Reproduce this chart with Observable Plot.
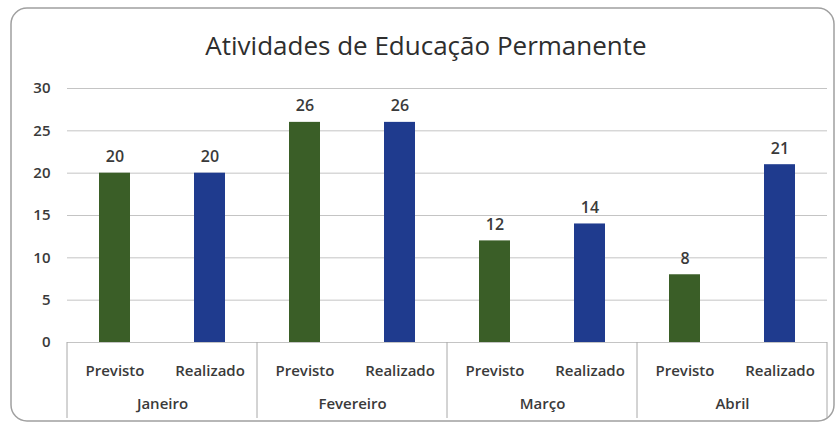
<!DOCTYPE html>
<html><head><meta charset="utf-8">
<script src="https://cdn.jsdelivr.net/npm/d3@7"></script>
<script src="https://cdn.jsdelivr.net/npm/@observablehq/plot@0.6"></script>
<style>body{margin:0;background:#fff;}</style>
</head><body><div id="chart"></div>
<script>
const title = "Atividades de Educação Permanente";
const months = ["Janeiro", "Fevereiro", "Março", "Abril"];
const types = ["Previsto", "Realizado"];
const previsto = [20, 26, 12, 8];
const realizado = [20, 26, 14, 21];
const yTicks = [0, 5, 10, 15, 20, 25, 30];
const colors = ["#3a5e27", "#1f3b8e"];

const data = months.flatMap((m, i) => [
  {month: m, tipo: types[0], value: previsto[i]},
  {month: m, tipo: types[1], value: realizado[i]}
]);
const font = "'Open Sans', sans-serif";

const plot = Plot.plot({
  width: 837, height: 424,
  marginLeft: 65, marginRight: 9, marginTop: 88, marginBottom: 82,
  style: {fontFamily: font, fontSize: "15px", color: "#3a3a3a", background: "transparent"},
  fx: {domain: months, padding: 0, label: null},
  x: {domain: types, paddingInner: 0.67, paddingOuter: 0.335, label: null},
  y: {domain: [0, 30], label: null},
  color: {domain: types, range: colors},
  marks: [
    Plot.gridY(yTicks, {stroke: "#c4c4c4", strokeOpacity: 1}),
    Plot.axisY(yTicks, {tickSize: 0, tickPadding: 17, label: null, fontSize: 15, fontWeight: 600}),
    Plot.barY(data, {fx: "month", x: "tipo", y: "value", fill: "tipo"}),
    Plot.text(data, {fx: "month", x: "tipo", y: "value", text: "value", dy: -16, fontSize: 16, fontWeight: 600, fill: "#3a3a3a"}),
    Plot.axisX({tickSize: 0, tickPadding: 23, label: null, fontWeight: 600}),
    Plot.axisFx({anchor: "bottom", tickSize: 0, tickPadding: 56, label: null, fontWeight: 600})
  ]
});

const svg = d3.select(plot);
const fx = plot.scale("fx"), y = plot.scale("y");
const bw = fx.bandwidth;
const edges = months.map(m => fx.apply(m)).concat([fx.apply(months[months.length - 1]) + bw]);
const y0 = y.apply(0);
const g = svg.append("g");
g.selectAll("line").data(edges).join("line")
  .attr("x1", d => d).attr("x2", d => d)
  .attr("y1", y0).attr("y2", 418)
  .attr("stroke", "#a8a8a8").attr("stroke-width", 1);

svg.insert("rect", ":first-child")
  .attr("x", 11).attr("y", 8).attr("width", 823).attr("height", 413)
  .attr("rx", 16).attr("fill", "none").attr("stroke", "#a0a0a0").attr("stroke-width", 1.5);

svg.append("text")
  .attr("x", 426).attr("y", 55)
  .attr("text-anchor", "middle")
  .attr("font-family", font).attr("font-size", 26)
  .attr("fill", "#2e2e2e")
  .text(title);

document.getElementById("chart").append(plot);
</script>
</body></html>
